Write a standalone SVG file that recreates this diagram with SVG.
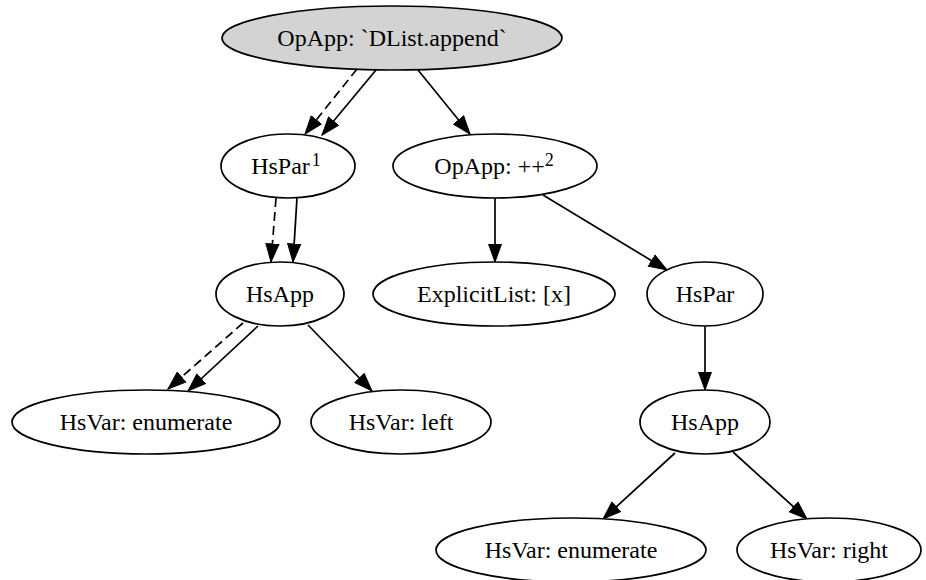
<svg xmlns="http://www.w3.org/2000/svg" width="926" height="580" viewBox="0 0 926 580">
<style>
  .node ellipse { fill: #ffffff; stroke: #000000; stroke-width: 1.7; }
  .node.root ellipse { fill: #d3d3d3; }
  .node text { font-family: "Liberation Serif", "Times New Roman", serif; font-size: 24px; fill: #000000; text-anchor: middle; }
  .sup { font-size: 18px; }
  .edge { fill: none; stroke: #000000; stroke-width: 1.7; marker-end: url(#arrow); }
  .dashed { stroke-dasharray: 9 5; }
</style>
<defs>
  <marker id="arrow" markerUnits="userSpaceOnUse" markerWidth="20" markerHeight="16" viewBox="0 0 20 16" refX="18.5" refY="8" orient="auto">
    <path d="M0.5,1.5 L18.5,8 L0.5,14.5 Z" fill="#000000" stroke="#000000" stroke-width="1"/>
  </marker>
</defs>
<rect width="926" height="580" fill="#ffffff"/>
<g id="edges">
  <path class="edge dashed" d="M357,69 L305,134"/>
  <path class="edge" d="M376,70 L322,135"/>
  <path class="edge" d="M418,70 L470,134"/>
  <path class="edge dashed" d="M276,198 L271,262"/>
  <path class="edge" d="M297,198 L293,262"/>
  <path class="edge" d="M495,198 L495,262"/>
  <path class="edge" d="M543,195 L667,270"/>
  <path class="edge dashed" d="M243,323 L168,389"/>
  <path class="edge" d="M258,326 L188,391"/>
  <path class="edge" d="M308,325 L372,391"/>
  <path class="edge" d="M705,326 L705,390"/>
  <path class="edge" d="M675,453 L603,519"/>
  <path class="edge" d="M733,452 L807,519"/>
</g>
<g id="n_root" class="node root">
  <ellipse cx="392" cy="38" rx="170" ry="32"/>
  <text x="392" y="46">OpApp: `DList.append`</text>
</g>
<g id="n_hspar1" class="node">
  <ellipse cx="288" cy="166" rx="67" ry="32"/>
  <text x="286" y="174">HsPar<tspan class="sup" dx="2" dy="-8">1</tspan></text>
</g>
<g id="n_opapp" class="node">
  <ellipse cx="495" cy="166" rx="102" ry="32"/>
  <text x="494" y="174">OpApp: ++<tspan class="sup" dy="-8">2</tspan></text>
</g>
<g id="n_hsapp_l" class="node">
  <ellipse cx="280" cy="294" rx="64" ry="32"/>
  <text x="280" y="302">HsApp</text>
</g>
<g id="n_explicitlist" class="node">
  <ellipse cx="494" cy="294" rx="121" ry="32"/>
  <text x="494" y="302">ExplicitList: [x]</text>
</g>
<g id="n_hspar_r" class="node">
  <ellipse cx="705" cy="294" rx="58" ry="32"/>
  <text x="705" y="302">HsPar</text>
</g>
<g id="n_hsvar_enum_l" class="node">
  <ellipse cx="146" cy="422" rx="134" ry="32"/>
  <text x="146" y="430">HsVar: enumerate</text>
</g>
<g id="n_hsvar_left" class="node">
  <ellipse cx="401" cy="422" rx="90" ry="32"/>
  <text x="401" y="430">HsVar: left</text>
</g>
<g id="n_hsapp_r" class="node">
  <ellipse cx="705" cy="422" rx="65" ry="32"/>
  <text x="705" y="430">HsApp</text>
</g>
<g id="n_hsvar_enum_r" class="node">
  <ellipse cx="571" cy="550" rx="135" ry="32"/>
  <text x="571" y="558">HsVar: enumerate</text>
</g>
<g id="n_hsvar_right" class="node">
  <ellipse cx="829" cy="550" rx="92" ry="32"/>
  <text x="829" y="558">HsVar: right</text>
</g>
</svg>
